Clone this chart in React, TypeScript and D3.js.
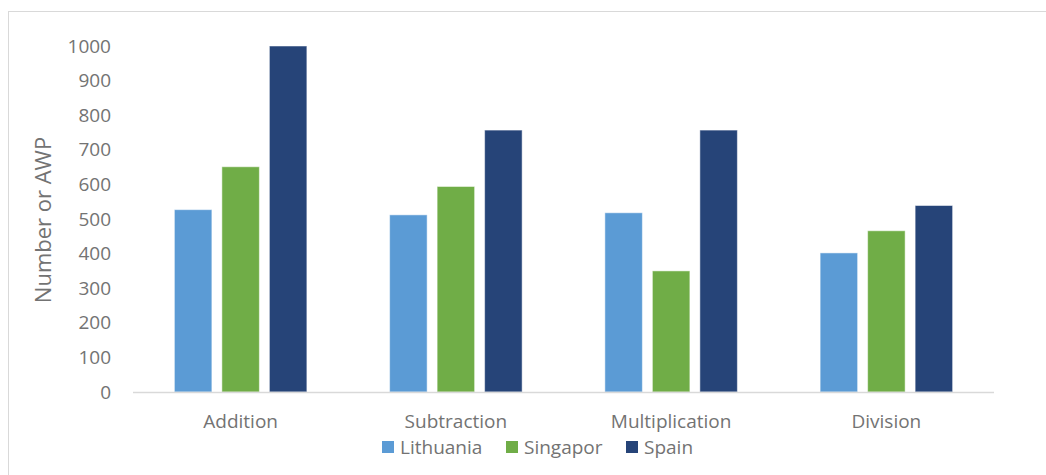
import { useEffect, useRef } from 'react'
import * as d3 from 'd3'

const categories = ['Addition', 'Subtraction', 'Multiplication', 'Division']
const seriesNames = ['Lithuania', 'Singapor', 'Spain']
const lithuania = [527, 512, 518, 402]
const singapor = [651, 594, 350, 466]
const spain = [1000, 757, 757, 539]
const yTicks = [0, 100, 200, 300, 400, 500, 600, 700, 800, 900, 1000]
const colors = ['#5B9BD5', '#70AD47', '#264478']

export default function App() {
    const svgRef = useRef<SVGSVGElement>(null)

    useEffect(() => {
        if (!svgRef.current) return
        const svg = d3.select(svgRef.current)
        svg.selectAll('*').remove()

        const width = 1046
        const height = 475
        const font = 'Open Sans, sans-serif'
        const textColor = '#737373'
        const plot = { left: 133, right: 994, top: 46, bottom: 392 }
        const values = [lithuania, singapor, spain]

        svg.attr('width', width).attr('height', height)

        // chart area border
        svg.append('rect')
            .attr('x', 8.5).attr('y', 11.5)
            .attr('width', width).attr('height', height)
            .attr('fill', 'white')
            .attr('stroke', '#d9d9d9')

        const x = d3.scaleBand()
            .domain(categories)
            .range([plot.left, plot.right])

        const y = d3.scaleLinear()
            .domain([0, 1000])
            .range([plot.bottom, plot.top])

        const barW = 37.5
        const gap = 10
        const groupW = 3 * barW + 2 * gap

        // bars
        values.forEach((vals, si) => {
            svg.append('g')
                .selectAll('rect')
                .data(vals)
                .enter()
                .append('rect')
                .attr('x', (_, i) => x(categories[i])! + x.bandwidth() / 2 - groupW / 2 + si * (barW + gap))
                .attr('y', d => y(d))
                .attr('width', barW)
                .attr('height', d => y(0) - y(d))
                .attr('fill', colors[si])
                .attr('stroke', 'rgba(255,255,255,0.5)')
                .attr('stroke-width', 1)
        })

        // x axis line
        svg.append('line')
            .attr('x1', plot.left).attr('x2', plot.right)
            .attr('y1', y(0) + 0.5).attr('y2', y(0) + 0.5)
            .attr('stroke', '#d9d9d9')
            .attr('stroke-width', 1.5)

        // y tick labels
        svg.append('g')
            .selectAll('text')
            .data(yTicks)
            .enter()
            .append('text')
            .attr('x', 111)
            .attr('y', d => y(d))
            .attr('dy', '0.35em')
            .attr('text-anchor', 'end')
            .style('font-family', font)
            .style('font-size', '19px')
            .style('fill', textColor)
            .text(d => d)

        // category labels
        svg.append('g')
            .selectAll('text')
            .data(categories)
            .enter()
            .append('text')
            .attr('x', d => x(d)! + x.bandwidth() / 2)
            .attr('y', 428)
            .attr('text-anchor', 'middle')
            .style('font-family', font)
            .style('font-size', '19px')
            .style('fill', textColor)
            .text(d => d)

        // y axis title
        svg.append('text')
            .attr('transform', `translate(51,${(plot.top + plot.bottom) / 2 + 1}) rotate(-90)`)
            .attr('text-anchor', 'middle')
            .style('font-family', font)
            .style('font-size', '22px')
            .style('fill', textColor)
            .text('Number or AWP')

        // legend
        const legendX = [382, 506, 626]
        const legend = svg.append('g')
        seriesNames.forEach((name, i) => {
            legend.append('rect')
                .attr('x', legendX[i]).attr('y', 441)
                .attr('width', 12).attr('height', 12)
                .attr('fill', colors[i])
            legend.append('text')
                .attr('x', legendX[i] + 18)
                .attr('y', 447)
                .attr('dy', '0.35em')
                .style('font-family', font)
                .style('font-size', '19px')
                .style('fill', textColor)
                .text(name)
        })
    }, [])

    return (
        <div style={{ position: 'fixed', left: 0, top: 0 }}>
            <svg ref={svgRef}></svg>
        </div>
    )
}
